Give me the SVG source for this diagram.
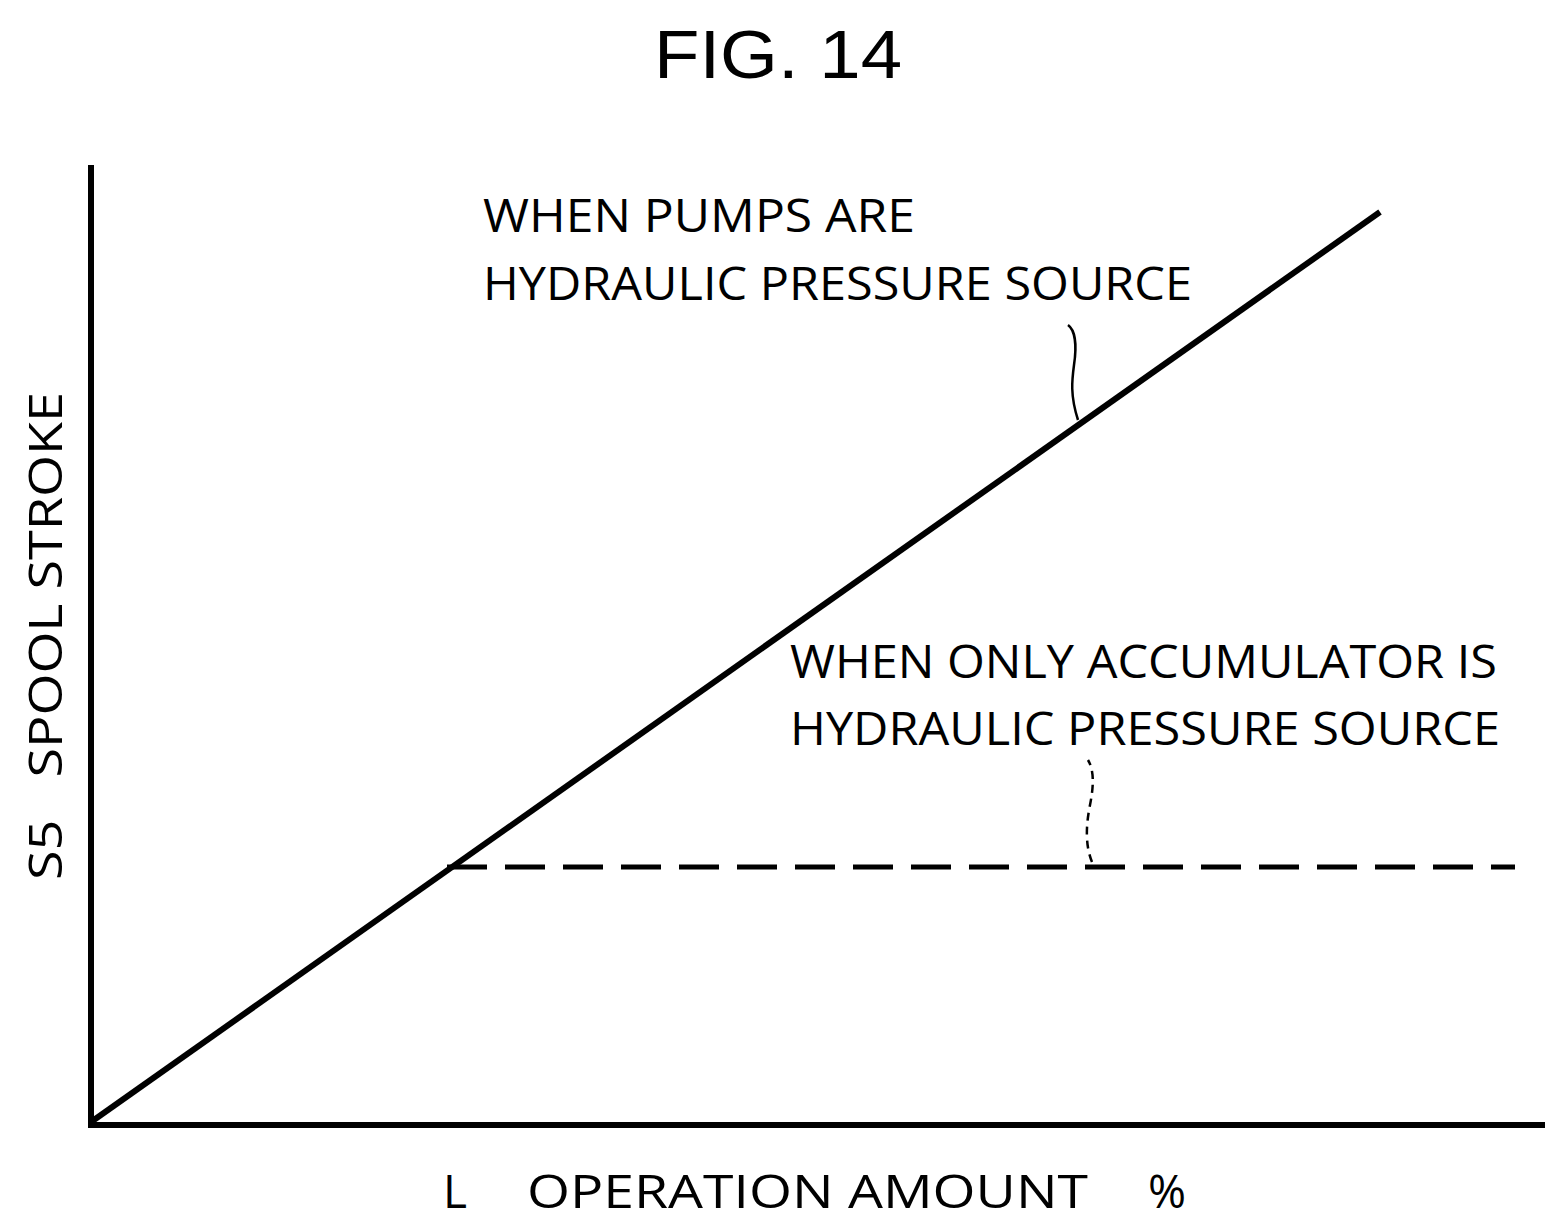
<svg xmlns="http://www.w3.org/2000/svg" width="1565" height="1229" viewBox="0 0 1565 1229">
<style>
.t{font-family:"Open Sans","Liberation Sans",sans-serif;font-size:46px;fill:#000}
.l{stroke:#000;fill:none}
</style>
<rect width="1565" height="1229" fill="#fff"/>
<text x="778" y="78" text-anchor="middle" style="font-family:'Liberation Sans',sans-serif;font-size:68px" textLength="248" lengthAdjust="spacingAndGlyphs">FIG. 14</text>
<g id="axes">
<path class="l" stroke-width="6" d="M91,165 V1125 H1545"/>
</g>
<g id="connectors">
<path class="l" stroke-width="6" d="M91,1122 L1380,212"/>
<path class="l" stroke-width="5" stroke-dasharray="40,18" d="M447,867 H1515"/>
<path class="l" stroke-width="2.5" d="M1078,420 C1070,395 1072,380 1074,365 C1077,345 1075,330 1068,325"/>
<path class="l" stroke-width="2.5" stroke-dasharray="8,6" d="M1092,862 C1085,845 1086,825 1090,805 C1094,785 1094,770 1088,760"/>
</g>
<g id="labels">
<text class="t" x="483" y="232" textLength="432" lengthAdjust="spacingAndGlyphs">WHEN PUMPS ARE</text>
<text class="t" x="483" y="300" textLength="709" lengthAdjust="spacingAndGlyphs">HYDRAULIC PRESSURE SOURCE</text>
<text class="t" x="790" y="678" textLength="707" lengthAdjust="spacingAndGlyphs">WHEN ONLY ACCUMULATOR IS</text>
<text class="t" x="790" y="745" textLength="710" lengthAdjust="spacingAndGlyphs">HYDRAULIC PRESSURE SOURCE</text>
<text class="t" x="443" y="1208">L</text>
<text class="t" x="527" y="1208" textLength="561" lengthAdjust="spacingAndGlyphs">OPERATION AMOUNT</text>
<text class="t" x="1148" y="1208">%</text>
<text class="t" transform="translate(62,880) rotate(-90)" xml:space="preserve" textLength="488" lengthAdjust="spacingAndGlyphs">S5   SPOOL STROKE</text>
</g>
</svg>
